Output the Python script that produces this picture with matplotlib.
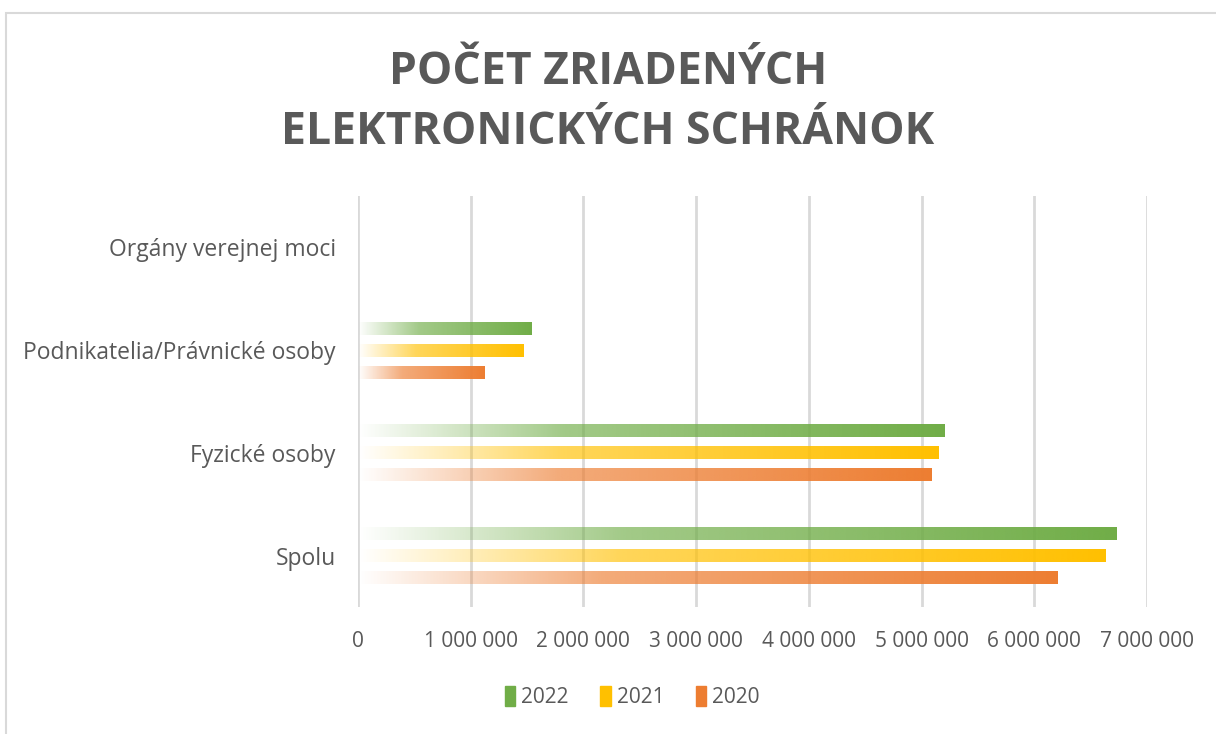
import numpy as np
import matplotlib.pyplot as plt
from matplotlib.colors import to_rgb
from matplotlib.patches import Rectangle

# Počet zriadených elektronických schránok

categories = ['Spolu', 'Fyzické osoby', 'Podnikatelia/Právnické osoby', 'Orgány verejnej moci']
years = ['2022', '2021', '2020']
v2022 = [6730000, 5200000, 1535000, 0]
v2021 = [6630000, 5150000, 1470000, 0]
v2020 = [6210000, 5090000, 1120000, 0]
xticks = [0, 1000000, 2000000, 3000000, 4000000, 5000000, 6000000, 7000000]

series = [v2022, v2021, v2020]
colors = ['#70AD47', '#FFC000', '#ED7D31']
gray = '#595959'
font = ['Open Sans', 'DejaVu Sans']

fig = plt.figure(figsize=(12.16, 7.34), dpi=100)
ax = fig.add_axes([358/1216, 1 - 607/734, (1147-358)/1216, (607-196)/734])

# border around chart area
fig.patches.append(Rectangle((6/1216, -0.01), 1.02, 1 - 13/734 + 0.01,
                             transform=fig.transFigure, fill=False,
                             edgecolor='#D9D9D9', linewidth=1.5))

y = np.arange(len(categories))
offsets = [0.214, 0, -0.214]   # 2022 on top, 2020 at bottom
h = 0.126

def gradient(color, n=256):
    r, g, b = to_rgb(color)
    t = np.linspace(0, 1, n)
    alpha = np.interp(t, [0, 0.35, 1], [0.0, 0.65, 1.0])
    img = np.zeros((1, n, 4))
    img[..., 0] = r
    img[..., 1] = g
    img[..., 2] = b
    img[..., 3] = alpha
    return img

for vals, off, col in zip(series, offsets, colors):
    img = gradient(col)
    for yi, v in zip(y, vals):
        if v <= 0:
            continue
        yc = yi + off
        ax.imshow(img, extent=[0, v, yc - h/2, yc + h/2], aspect='auto',
                  interpolation='bilinear', zorder=3)

ax.set_xlim(0, 7000000)
ax.set_ylim(-0.5, 3.5)
ax.set_aspect('auto')

ax.set_xticks(xticks)
ax.set_xticklabels([f'{t:,}'.replace(',', ' ') for t in xticks],
                   fontsize=15, color=gray, family=font)
ax.set_yticks(y)
ax.set_yticklabels(categories, fontsize=16.5, color=gray, family=font)
ax.tick_params(length=0, pad=17)
ax.tick_params(axis='y', pad=16)
ax.grid(axis='x', color='#D9D9D9', linewidth=2, zorder=0)
ax.set_axisbelow(True)
for s in ax.spines.values():
    s.set_visible(False)

fig.text(0.5, 0.86, 'POČET ZRIADENÝCH\nELEKTRONICKÝCH SCHRÁNOK', ha='center', va='center',
         fontsize=32, fontweight='bold', color=gray, family=font, linespacing=1.45)

handles = [Rectangle((0, 0), 1, 1, color=c) for c in colors]
fig.legend(handles, years, loc='center', bbox_to_anchor=(0.52, 0.05), ncol=3,
           frameon=False, handlelength=0.5, handleheight=1.1, handletextpad=0.3,
           columnspacing=1.5, prop={'family': font, 'size': 15}, labelcolor=gray)

fig.savefig('out.png', dpi=100, facecolor='white')
